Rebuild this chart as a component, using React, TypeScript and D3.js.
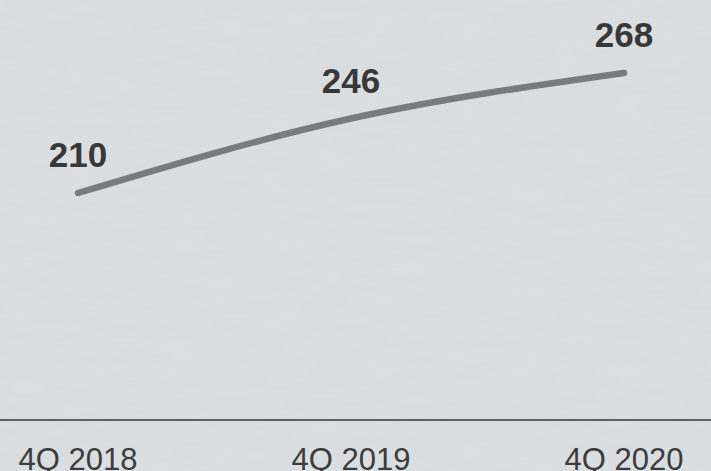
import React from "react";
import * as d3 from "d3";

const categories = ["4Q 2018", "4Q 2019", "4Q 2020"];
const values = [210, 246, 268];
const valueLabels = ["210", "246", "268"];

const W = 711;
const H = 471;

export default function App() {
  const x = d3.scalePoint<string>().domain(categories).range([78, 624]);
  const y = d3.scaleLinear().domain([120, 290]).range([379.2, 27.5]);
  const pts: [number, number][] = categories.map((c, i) => [x(c) as number, y(values[i])]);
  const line = d3.line<[number, number]>().x((d) => d[0]).y((d) => d[1]).curve(d3.curveMonotoneX);

  return (
    <svg
      width={W}
      height={H}
      style={{ position: "absolute", left: 0, top: 0, display: "block" }}
      fontFamily="'Liberation Sans', Arial, sans-serif"
    >
      <defs>
        <filter id="tex" x="0" y="0" width="100%" height="100%">
          <feTurbulence type="fractalNoise" baseFrequency="0.02 0.08" numOctaves="3" seed="4" result="n" />
          <feColorMatrix type="matrix" values="0 0 0 0 1  0 0 0 0 1  0 0 0 0 1  0 0 0 0.10 0" />
        </filter>
      </defs>
      <rect x={0} y={0} width={W} height={H} fill="#d9dcdf" />
      <rect x={0} y={0} width={W} height={H} filter="url(#tex)" />
      <line x1={0} x2={W} y1={420} y2={420} stroke="#5f6163" strokeWidth={2} />
      <path d={line(pts) || ""} fill="none" stroke="#7b7b7b" strokeWidth={6.5} strokeLinecap="round" />
      {pts.map((p, i) => (
        <text
          key={i}
          x={p[0]}
          y={p[1] - 26}
          textAnchor="middle"
          fontSize={35}
          fontWeight="bold"
          fill="#383838"
        >
          {valueLabels[i]}
        </text>
      ))}
      {categories.map((c) => (
        <text key={c} x={x(c) as number} y={469.5} textAnchor="middle" fontSize={31} fill="#3c3c3c">
          {c}
        </text>
      ))}
    </svg>
  );
}
